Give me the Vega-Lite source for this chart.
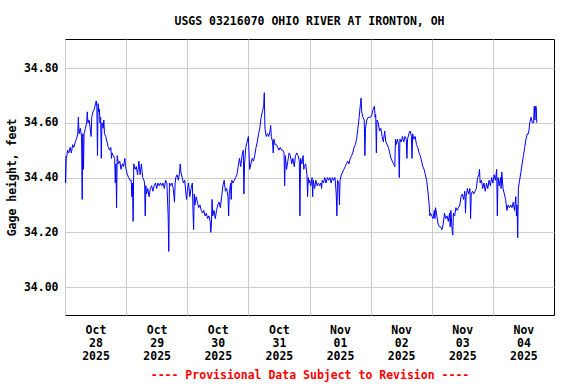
{
  "$schema": "https://vega.github.io/schema/vega-lite/v6.json",
  "width": 489,
  "height": 276,
  "autosize": {"type": "none"},
  "padding": {"left": 65, "top": 39, "right": 22, "bottom": 69},
  "background": "white",
  "title": {"text": "USGS 03216070 OHIO RIVER AT IRONTON, OH", "anchor": "middle", "font": "DejaVu Sans Mono", "fontSize": 11.5, "fontWeight": "bold", "color": "black", "offset": 12},
  "config": {
    "view": {"stroke": "black", "strokeWidth": 1},
    "axis": {"domain": false, "ticks": false, "gridColor": "#cccccc", "gridWidth": 1, "gridOpacity": 1,
      "labelFont": "DejaVu Sans Mono", "labelFontSize": 11.5, "labelFontWeight": "bold", "labelColor": "black",
      "titleFont": "DejaVu Sans Mono", "titleFontSize": 11.5, "titleFontWeight": "bold", "titleColor": "black"}
  },
  "data": {"values": [
    {"t":"2025-10-28T00:00:00Z","v":34.48},{"t":"2025-10-28T00:15:00Z","v":34.38},{"t":"2025-10-28T00:30:00Z","v":34.47},{"t":"2025-10-28T00:45:00Z","v":34.48},
    {"t":"2025-10-28T01:00:00Z","v":34.50},{"t":"2025-10-28T01:30:00Z","v":34.49},{"t":"2025-10-28T02:00:00Z","v":34.51},{"t":"2025-10-28T02:30:00Z","v":34.49},
    {"t":"2025-10-28T03:00:00Z","v":34.52},{"t":"2025-10-28T03:30:00Z","v":34.51},{"t":"2025-10-28T04:00:00Z","v":34.53},{"t":"2025-10-28T04:30:00Z","v":34.54},
    {"t":"2025-10-28T05:00:00Z","v":34.56},{"t":"2025-10-28T05:15:00Z","v":34.62},{"t":"2025-10-28T05:30:00Z","v":34.56},{"t":"2025-10-28T06:00:00Z","v":34.58},
    {"t":"2025-10-28T06:30:00Z","v":34.55},{"t":"2025-10-28T06:45:00Z","v":34.32},{"t":"2025-10-28T07:00:00Z","v":34.56},{"t":"2025-10-28T07:15:00Z","v":34.43},
    {"t":"2025-10-28T07:30:00Z","v":34.56},{"t":"2025-10-28T08:00:00Z","v":34.58},{"t":"2025-10-28T08:30:00Z","v":34.60},{"t":"2025-10-28T08:45:00Z","v":34.64},
    {"t":"2025-10-28T09:00:00Z","v":34.60},{"t":"2025-10-28T09:30:00Z","v":34.61},{"t":"2025-10-28T10:00:00Z","v":34.57},{"t":"2025-10-28T10:15:00Z","v":34.55},
    {"t":"2025-10-28T10:30:00Z","v":34.62},{"t":"2025-10-28T11:00:00Z","v":34.64},{"t":"2025-10-28T11:30:00Z","v":34.65},{"t":"2025-10-28T12:00:00Z","v":34.67},
    {"t":"2025-10-28T12:15:00Z","v":34.68},{"t":"2025-10-28T12:30:00Z","v":34.66},{"t":"2025-10-28T12:45:00Z","v":34.48},{"t":"2025-10-28T13:00:00Z","v":34.67},
    {"t":"2025-10-28T13:15:00Z","v":34.64},{"t":"2025-10-28T13:30:00Z","v":34.65},{"t":"2025-10-28T13:45:00Z","v":34.60},{"t":"2025-10-28T14:00:00Z","v":34.62},
    {"t":"2025-10-28T14:15:00Z","v":34.47},{"t":"2025-10-28T14:30:00Z","v":34.60},{"t":"2025-10-28T15:00:00Z","v":34.58},{"t":"2025-10-28T15:15:00Z","v":34.61},
    {"t":"2025-10-28T15:30:00Z","v":34.56},{"t":"2025-10-28T16:00:00Z","v":34.55},{"t":"2025-10-28T16:30:00Z","v":34.53},{"t":"2025-10-28T17:00:00Z","v":34.51},
    {"t":"2025-10-28T17:30:00Z","v":34.50},{"t":"2025-10-28T18:00:00Z","v":34.51},{"t":"2025-10-28T18:15:00Z","v":34.47},{"t":"2025-10-28T18:30:00Z","v":34.49},
    {"t":"2025-10-28T19:00:00Z","v":34.48},{"t":"2025-10-28T19:30:00Z","v":34.47},{"t":"2025-10-28T19:45:00Z","v":34.38},{"t":"2025-10-28T20:00:00Z","v":34.45},
    {"t":"2025-10-28T20:15:00Z","v":34.29},{"t":"2025-10-28T20:30:00Z","v":34.48},{"t":"2025-10-28T21:00:00Z","v":34.45},{"t":"2025-10-28T21:30:00Z","v":34.46},
    {"t":"2025-10-28T22:00:00Z","v":34.43},{"t":"2025-10-28T22:30:00Z","v":34.45},{"t":"2025-10-28T23:00:00Z","v":34.44},{"t":"2025-10-28T23:30:00Z","v":34.47},
    {"t":"2025-10-28T23:45:00Z","v":34.44},
    {"t":"2025-10-29T00:00:00Z","v":34.43},{"t":"2025-10-29T00:30:00Z","v":34.41},{"t":"2025-10-29T01:00:00Z","v":34.40},{"t":"2025-10-29T01:30:00Z","v":34.39},
    {"t":"2025-10-29T02:00:00Z","v":34.39},{"t":"2025-10-29T02:15:00Z","v":34.33},{"t":"2025-10-29T02:30:00Z","v":34.38},{"t":"2025-10-29T02:45:00Z","v":34.24},
    {"t":"2025-10-29T03:00:00Z","v":34.45},{"t":"2025-10-29T03:30:00Z","v":34.43},{"t":"2025-10-29T04:00:00Z","v":34.44},{"t":"2025-10-29T04:30:00Z","v":34.41},
    {"t":"2025-10-29T05:00:00Z","v":34.46},{"t":"2025-10-29T05:30:00Z","v":34.41},{"t":"2025-10-29T06:00:00Z","v":34.45},{"t":"2025-10-29T06:30:00Z","v":34.40},
    {"t":"2025-10-29T07:00:00Z","v":34.39},{"t":"2025-10-29T07:15:00Z","v":34.38},{"t":"2025-10-29T07:30:00Z","v":34.26},{"t":"2025-10-29T07:45:00Z","v":34.37},
    {"t":"2025-10-29T08:00:00Z","v":34.34},{"t":"2025-10-29T08:30:00Z","v":34.36},{"t":"2025-10-29T09:00:00Z","v":34.33},{"t":"2025-10-29T09:30:00Z","v":34.36},
    {"t":"2025-10-29T10:00:00Z","v":34.37},{"t":"2025-10-29T10:30:00Z","v":34.35},{"t":"2025-10-29T11:00:00Z","v":34.37},{"t":"2025-10-29T11:30:00Z","v":34.38},
    {"t":"2025-10-29T12:00:00Z","v":34.36},{"t":"2025-10-29T12:30:00Z","v":34.38},{"t":"2025-10-29T13:00:00Z","v":34.37},{"t":"2025-10-29T13:30:00Z","v":34.38},
    {"t":"2025-10-29T14:00:00Z","v":34.37},{"t":"2025-10-29T14:30:00Z","v":34.38},{"t":"2025-10-29T15:00:00Z","v":34.36},{"t":"2025-10-29T15:30:00Z","v":34.39},
    {"t":"2025-10-29T16:00:00Z","v":34.38},{"t":"2025-10-29T16:30:00Z","v":34.26},{"t":"2025-10-29T16:45:00Z","v":34.13},{"t":"2025-10-29T17:00:00Z","v":34.38},
    {"t":"2025-10-29T17:30:00Z","v":34.37},{"t":"2025-10-29T18:00:00Z","v":34.38},{"t":"2025-10-29T18:30:00Z","v":34.36},{"t":"2025-10-29T19:00:00Z","v":34.31},
    {"t":"2025-10-29T19:15:00Z","v":34.38},{"t":"2025-10-29T19:30:00Z","v":34.40},{"t":"2025-10-29T20:00:00Z","v":34.41},{"t":"2025-10-29T20:30:00Z","v":34.39},
    {"t":"2025-10-29T21:00:00Z","v":34.42},{"t":"2025-10-29T21:15:00Z","v":34.45},{"t":"2025-10-29T21:30:00Z","v":34.42},{"t":"2025-10-29T22:00:00Z","v":34.40},
    {"t":"2025-10-29T22:30:00Z","v":34.38},{"t":"2025-10-29T23:00:00Z","v":34.39},{"t":"2025-10-29T23:30:00Z","v":34.34},{"t":"2025-10-29T23:45:00Z","v":34.32},
    {"t":"2025-10-30T00:00:00Z","v":34.35},{"t":"2025-10-30T00:30:00Z","v":34.38},{"t":"2025-10-30T01:00:00Z","v":34.33},{"t":"2025-10-30T01:30:00Z","v":34.36},
    {"t":"2025-10-30T02:00:00Z","v":34.38},{"t":"2025-10-30T02:15:00Z","v":34.28},{"t":"2025-10-30T02:30:00Z","v":34.21},{"t":"2025-10-30T02:45:00Z","v":34.34},
    {"t":"2025-10-30T03:00:00Z","v":34.30},{"t":"2025-10-30T03:30:00Z","v":34.33},{"t":"2025-10-30T04:00:00Z","v":34.31},{"t":"2025-10-30T04:30:00Z","v":34.29},
    {"t":"2025-10-30T05:00:00Z","v":34.30},{"t":"2025-10-30T05:30:00Z","v":34.28},{"t":"2025-10-30T06:00:00Z","v":34.27},{"t":"2025-10-30T06:30:00Z","v":34.28},
    {"t":"2025-10-30T07:00:00Z","v":34.26},{"t":"2025-10-30T07:30:00Z","v":34.27},{"t":"2025-10-30T08:00:00Z","v":34.25},{"t":"2025-10-30T08:30:00Z","v":34.26},
    {"t":"2025-10-30T09:00:00Z","v":34.24},{"t":"2025-10-30T09:15:00Z","v":34.20},{"t":"2025-10-30T09:30:00Z","v":34.23},{"t":"2025-10-30T09:45:00Z","v":34.32},
    {"t":"2025-10-30T10:00:00Z","v":34.26},{"t":"2025-10-30T10:30:00Z","v":34.28},{"t":"2025-10-30T11:00:00Z","v":34.25},{"t":"2025-10-30T11:30:00Z","v":34.28},
    {"t":"2025-10-30T12:00:00Z","v":34.30},{"t":"2025-10-30T12:30:00Z","v":34.31},{"t":"2025-10-30T13:00:00Z","v":34.29},{"t":"2025-10-30T13:30:00Z","v":34.33},
    {"t":"2025-10-30T14:00:00Z","v":34.37},{"t":"2025-10-30T14:30:00Z","v":34.39},{"t":"2025-10-30T15:00:00Z","v":34.35},{"t":"2025-10-30T15:30:00Z","v":34.36},
    {"t":"2025-10-30T16:00:00Z","v":34.33},{"t":"2025-10-30T16:15:00Z","v":34.26},{"t":"2025-10-30T16:30:00Z","v":34.34},{"t":"2025-10-30T17:00:00Z","v":34.38},
    {"t":"2025-10-30T17:15:00Z","v":34.32},{"t":"2025-10-30T17:30:00Z","v":34.39},{"t":"2025-10-30T18:00:00Z","v":34.38},{"t":"2025-10-30T18:30:00Z","v":34.39},
    {"t":"2025-10-30T19:00:00Z","v":34.40},{"t":"2025-10-30T19:30:00Z","v":34.41},{"t":"2025-10-30T20:00:00Z","v":34.44},{"t":"2025-10-30T20:30:00Z","v":34.47},
    {"t":"2025-10-30T21:00:00Z","v":34.44},{"t":"2025-10-30T21:30:00Z","v":34.48},{"t":"2025-10-30T22:00:00Z","v":34.50},{"t":"2025-10-30T22:15:00Z","v":34.34},
    {"t":"2025-10-30T22:30:00Z","v":34.45},{"t":"2025-10-30T23:00:00Z","v":34.51},{"t":"2025-10-30T23:30:00Z","v":34.53},
    {"t":"2025-10-31T00:00:00Z","v":34.55},{"t":"2025-10-31T00:30:00Z","v":34.43},{"t":"2025-10-31T01:00:00Z","v":34.45},{"t":"2025-10-31T01:30:00Z","v":34.47},
    {"t":"2025-10-31T02:00:00Z","v":34.46},{"t":"2025-10-31T02:30:00Z","v":34.48},{"t":"2025-10-31T03:00:00Z","v":34.51},{"t":"2025-10-31T03:30:00Z","v":34.53},
    {"t":"2025-10-31T04:00:00Z","v":34.56},{"t":"2025-10-31T04:30:00Z","v":34.58},{"t":"2025-10-31T05:00:00Z","v":34.62},{"t":"2025-10-31T05:30:00Z","v":34.64},
    {"t":"2025-10-31T06:00:00Z","v":34.66},{"t":"2025-10-31T06:15:00Z","v":34.71},{"t":"2025-10-31T06:30:00Z","v":34.58},{"t":"2025-10-31T07:00:00Z","v":34.55},
    {"t":"2025-10-31T07:30:00Z","v":34.56},{"t":"2025-10-31T08:00:00Z","v":34.55},{"t":"2025-10-31T08:30:00Z","v":34.57},{"t":"2025-10-31T08:45:00Z","v":34.59},
    {"t":"2025-10-31T09:00:00Z","v":34.55},{"t":"2025-10-31T09:30:00Z","v":34.53},{"t":"2025-10-31T09:45:00Z","v":34.49},{"t":"2025-10-31T10:00:00Z","v":34.54},
    {"t":"2025-10-31T10:30:00Z","v":34.52},{"t":"2025-10-31T11:00:00Z","v":34.52},{"t":"2025-10-31T11:30:00Z","v":34.51},{"t":"2025-10-31T12:00:00Z","v":34.50},
    {"t":"2025-10-31T12:30:00Z","v":34.51},{"t":"2025-10-31T13:00:00Z","v":34.50},{"t":"2025-10-31T13:30:00Z","v":34.50},{"t":"2025-10-31T14:00:00Z","v":34.49},
    {"t":"2025-10-31T14:15:00Z","v":34.37},{"t":"2025-10-31T14:30:00Z","v":34.48},{"t":"2025-10-31T15:00:00Z","v":34.43},{"t":"2025-10-31T15:30:00Z","v":34.46},
    {"t":"2025-10-31T16:00:00Z","v":34.49},{"t":"2025-10-31T16:30:00Z","v":34.48},{"t":"2025-10-31T17:00:00Z","v":34.45},{"t":"2025-10-31T17:30:00Z","v":34.47},
    {"t":"2025-10-31T18:00:00Z","v":34.44},{"t":"2025-10-31T18:30:00Z","v":34.48},{"t":"2025-10-31T19:00:00Z","v":34.49},{"t":"2025-10-31T19:30:00Z","v":34.48},
    {"t":"2025-10-31T20:00:00Z","v":34.46},{"t":"2025-10-31T20:15:00Z","v":34.26},{"t":"2025-10-31T20:30:00Z","v":34.47},{"t":"2025-10-31T21:00:00Z","v":34.45},
    {"t":"2025-10-31T21:30:00Z","v":34.48},{"t":"2025-10-31T21:45:00Z","v":34.43},{"t":"2025-10-31T22:00:00Z","v":34.44},{"t":"2025-10-31T22:30:00Z","v":34.45},
    {"t":"2025-10-31T23:00:00Z","v":34.41},{"t":"2025-10-31T23:15:00Z","v":34.33},{"t":"2025-10-31T23:30:00Z","v":34.40},{"t":"2025-10-31T23:45:00Z","v":34.38},
    {"t":"2025-11-01T00:00:00Z","v":34.39},{"t":"2025-11-01T00:30:00Z","v":34.37},{"t":"2025-11-01T01:00:00Z","v":34.40},{"t":"2025-11-01T01:15:00Z","v":34.33},
    {"t":"2025-11-01T01:30:00Z","v":34.39},{"t":"2025-11-01T02:00:00Z","v":34.36},{"t":"2025-11-01T02:30:00Z","v":34.39},{"t":"2025-11-01T03:00:00Z","v":34.37},
    {"t":"2025-11-01T03:30:00Z","v":34.38},{"t":"2025-11-01T04:00:00Z","v":34.37},{"t":"2025-11-01T04:30:00Z","v":34.38},{"t":"2025-11-01T04:45:00Z","v":34.36},
    {"t":"2025-11-01T05:00:00Z","v":34.39},{"t":"2025-11-01T05:30:00Z","v":34.38},{"t":"2025-11-01T06:00:00Z","v":34.40},{"t":"2025-11-01T06:30:00Z","v":34.38},
    {"t":"2025-11-01T07:00:00Z","v":34.40},{"t":"2025-11-01T07:30:00Z","v":34.39},{"t":"2025-11-01T08:00:00Z","v":34.40},{"t":"2025-11-01T08:30:00Z","v":34.38},
    {"t":"2025-11-01T09:00:00Z","v":34.40},{"t":"2025-11-01T09:30:00Z","v":34.39},{"t":"2025-11-01T10:00:00Z","v":34.40},{"t":"2025-11-01T10:30:00Z","v":34.34},
    {"t":"2025-11-01T10:45:00Z","v":34.26},{"t":"2025-11-01T11:00:00Z","v":34.39},{"t":"2025-11-01T11:30:00Z","v":34.38},{"t":"2025-11-01T11:45:00Z","v":34.30},
    {"t":"2025-11-01T12:00:00Z","v":34.39},{"t":"2025-11-01T12:30:00Z","v":34.41},{"t":"2025-11-01T13:00:00Z","v":34.42},{"t":"2025-11-01T13:30:00Z","v":34.43},
    {"t":"2025-11-01T14:00:00Z","v":34.44},{"t":"2025-11-01T14:30:00Z","v":34.45},{"t":"2025-11-01T15:00:00Z","v":34.46},{"t":"2025-11-01T15:30:00Z","v":34.45},
    {"t":"2025-11-01T16:00:00Z","v":34.47},{"t":"2025-11-01T16:30:00Z","v":34.48},{"t":"2025-11-01T17:00:00Z","v":34.49},{"t":"2025-11-01T17:30:00Z","v":34.51},
    {"t":"2025-11-01T18:00:00Z","v":34.52},{"t":"2025-11-01T18:30:00Z","v":34.54},{"t":"2025-11-01T19:00:00Z","v":34.58},{"t":"2025-11-01T19:30:00Z","v":34.62},
    {"t":"2025-11-01T20:00:00Z","v":34.67},{"t":"2025-11-01T20:15:00Z","v":34.69},{"t":"2025-11-01T20:30:00Z","v":34.64},{"t":"2025-11-01T21:00:00Z","v":34.62},
    {"t":"2025-11-01T21:30:00Z","v":34.61},{"t":"2025-11-01T21:45:00Z","v":34.48},{"t":"2025-11-01T22:00:00Z","v":34.58},{"t":"2025-11-01T22:30:00Z","v":34.61},
    {"t":"2025-11-01T23:00:00Z","v":34.62},{"t":"2025-11-01T23:30:00Z","v":34.62},
    {"t":"2025-11-02T00:00:00Z","v":34.62},{"t":"2025-11-02T00:30:00Z","v":34.63},{"t":"2025-11-02T01:00:00Z","v":34.65},{"t":"2025-11-02T01:30:00Z","v":34.66},
    {"t":"2025-11-02T01:45:00Z","v":34.62},{"t":"2025-11-02T02:00:00Z","v":34.63},{"t":"2025-11-02T02:15:00Z","v":34.49},{"t":"2025-11-02T02:30:00Z","v":34.61},
    {"t":"2025-11-02T03:00:00Z","v":34.60},{"t":"2025-11-02T03:30:00Z","v":34.57},{"t":"2025-11-02T04:00:00Z","v":34.58},{"t":"2025-11-02T04:30:00Z","v":34.55},
    {"t":"2025-11-02T05:00:00Z","v":34.53},{"t":"2025-11-02T05:30:00Z","v":34.57},{"t":"2025-11-02T06:00:00Z","v":34.53},{"t":"2025-11-02T06:30:00Z","v":34.52},
    {"t":"2025-11-02T07:00:00Z","v":34.51},{"t":"2025-11-02T07:30:00Z","v":34.49},{"t":"2025-11-02T08:00:00Z","v":34.47},{"t":"2025-11-02T08:30:00Z","v":34.46},
    {"t":"2025-11-02T09:00:00Z","v":34.45},{"t":"2025-11-02T09:30:00Z","v":34.44},{"t":"2025-11-02T09:45:00Z","v":34.54},{"t":"2025-11-02T10:00:00Z","v":34.52},
    {"t":"2025-11-02T10:30:00Z","v":34.54},{"t":"2025-11-02T11:00:00Z","v":34.52},{"t":"2025-11-02T11:15:00Z","v":34.40},{"t":"2025-11-02T11:30:00Z","v":34.54},
    {"t":"2025-11-02T12:00:00Z","v":34.53},{"t":"2025-11-02T12:30:00Z","v":34.55},{"t":"2025-11-02T13:00:00Z","v":34.53},{"t":"2025-11-02T13:30:00Z","v":34.55},
    {"t":"2025-11-02T14:00:00Z","v":34.54},{"t":"2025-11-02T14:15:00Z","v":34.47},{"t":"2025-11-02T14:30:00Z","v":34.54},{"t":"2025-11-02T15:00:00Z","v":34.56},
    {"t":"2025-11-02T15:30:00Z","v":34.57},{"t":"2025-11-02T16:00:00Z","v":34.55},{"t":"2025-11-02T16:15:00Z","v":34.47},{"t":"2025-11-02T16:30:00Z","v":34.56},
    {"t":"2025-11-02T17:00:00Z","v":34.54},{"t":"2025-11-02T17:30:00Z","v":34.55},{"t":"2025-11-02T18:00:00Z","v":34.52},{"t":"2025-11-02T18:30:00Z","v":34.51},
    {"t":"2025-11-02T19:00:00Z","v":34.49},{"t":"2025-11-02T19:30:00Z","v":34.48},{"t":"2025-11-02T20:00:00Z","v":34.46},{"t":"2025-11-02T20:30:00Z","v":34.44},
    {"t":"2025-11-02T21:00:00Z","v":34.43},{"t":"2025-11-02T21:30:00Z","v":34.41},{"t":"2025-11-02T22:00:00Z","v":34.39},{"t":"2025-11-02T22:30:00Z","v":34.35},
    {"t":"2025-11-02T23:00:00Z","v":34.30},{"t":"2025-11-02T23:15:00Z","v":34.26},{"t":"2025-11-02T23:30:00Z","v":34.27},
    {"t":"2025-11-03T00:00:00Z","v":34.26},{"t":"2025-11-03T00:30:00Z","v":34.25},{"t":"2025-11-03T01:00:00Z","v":34.28},{"t":"2025-11-03T01:15:00Z","v":34.25},
    {"t":"2025-11-03T01:30:00Z","v":34.29},{"t":"2025-11-03T02:00:00Z","v":34.26},{"t":"2025-11-03T02:30:00Z","v":34.23},{"t":"2025-11-03T03:00:00Z","v":34.22},
    {"t":"2025-11-03T03:30:00Z","v":34.22},{"t":"2025-11-03T04:00:00Z","v":34.21},{"t":"2025-11-03T04:30:00Z","v":34.23},{"t":"2025-11-03T05:00:00Z","v":34.27},
    {"t":"2025-11-03T05:30:00Z","v":34.25},{"t":"2025-11-03T06:00:00Z","v":34.26},{"t":"2025-11-03T06:30:00Z","v":34.24},{"t":"2025-11-03T07:00:00Z","v":34.27},
    {"t":"2025-11-03T07:15:00Z","v":34.22},{"t":"2025-11-03T07:30:00Z","v":34.28},{"t":"2025-11-03T08:00:00Z","v":34.21},{"t":"2025-11-03T08:15:00Z","v":34.19},
    {"t":"2025-11-03T08:30:00Z","v":34.27},{"t":"2025-11-03T09:00:00Z","v":34.26},{"t":"2025-11-03T09:30:00Z","v":34.29},{"t":"2025-11-03T10:00:00Z","v":34.28},
    {"t":"2025-11-03T10:30:00Z","v":34.29},{"t":"2025-11-03T11:00:00Z","v":34.30},{"t":"2025-11-03T11:30:00Z","v":34.33},{"t":"2025-11-03T12:00:00Z","v":34.34},
    {"t":"2025-11-03T12:30:00Z","v":34.32},{"t":"2025-11-03T13:00:00Z","v":34.35},{"t":"2025-11-03T13:15:00Z","v":34.27},{"t":"2025-11-03T13:30:00Z","v":34.33},
    {"t":"2025-11-03T14:00:00Z","v":34.36},{"t":"2025-11-03T14:30:00Z","v":34.34},{"t":"2025-11-03T15:00:00Z","v":34.36},{"t":"2025-11-03T15:15:00Z","v":34.25},
    {"t":"2025-11-03T15:30:00Z","v":34.34},{"t":"2025-11-03T16:00:00Z","v":34.35},{"t":"2025-11-03T16:30:00Z","v":34.34},{"t":"2025-11-03T17:00:00Z","v":34.35},
    {"t":"2025-11-03T17:30:00Z","v":34.36},{"t":"2025-11-03T18:00:00Z","v":34.40},{"t":"2025-11-03T18:30:00Z","v":34.41},{"t":"2025-11-03T18:45:00Z","v":34.43},
    {"t":"2025-11-03T19:00:00Z","v":34.38},{"t":"2025-11-03T19:30:00Z","v":34.39},{"t":"2025-11-03T20:00:00Z","v":34.36},{"t":"2025-11-03T20:30:00Z","v":34.38},
    {"t":"2025-11-03T21:00:00Z","v":34.35},{"t":"2025-11-03T21:30:00Z","v":34.38},{"t":"2025-11-03T22:00:00Z","v":34.36},{"t":"2025-11-03T22:30:00Z","v":34.39},
    {"t":"2025-11-03T23:00:00Z","v":34.37},{"t":"2025-11-03T23:30:00Z","v":34.40},
    {"t":"2025-11-04T00:00:00Z","v":34.38},{"t":"2025-11-04T00:30:00Z","v":34.41},{"t":"2025-11-04T01:00:00Z","v":34.39},{"t":"2025-11-04T01:30:00Z","v":34.43},
    {"t":"2025-11-04T01:45:00Z","v":34.26},{"t":"2025-11-04T02:00:00Z","v":34.40},{"t":"2025-11-04T02:30:00Z","v":34.37},{"t":"2025-11-04T03:00:00Z","v":34.40},
    {"t":"2025-11-04T03:15:00Z","v":34.36},{"t":"2025-11-04T03:30:00Z","v":34.42},{"t":"2025-11-04T04:00:00Z","v":34.36},{"t":"2025-11-04T04:30:00Z","v":34.34},
    {"t":"2025-11-04T05:00:00Z","v":34.32},{"t":"2025-11-04T05:30:00Z","v":34.28},{"t":"2025-11-04T06:00:00Z","v":34.30},{"t":"2025-11-04T06:30:00Z","v":34.29},
    {"t":"2025-11-04T07:00:00Z","v":34.30},{"t":"2025-11-04T07:30:00Z","v":34.29},{"t":"2025-11-04T08:00:00Z","v":34.31},{"t":"2025-11-04T08:30:00Z","v":34.28},
    {"t":"2025-11-04T09:00:00Z","v":34.33},{"t":"2025-11-04T09:15:00Z","v":34.26},{"t":"2025-11-04T09:30:00Z","v":34.30},{"t":"2025-11-04T09:45:00Z","v":34.18},
    {"t":"2025-11-04T10:00:00Z","v":34.36},{"t":"2025-11-04T10:30:00Z","v":34.39},{"t":"2025-11-04T11:00:00Z","v":34.42},{"t":"2025-11-04T11:30:00Z","v":34.45},
    {"t":"2025-11-04T12:00:00Z","v":34.48},{"t":"2025-11-04T12:30:00Z","v":34.51},{"t":"2025-11-04T13:00:00Z","v":34.54},{"t":"2025-11-04T13:30:00Z","v":34.56},
    {"t":"2025-11-04T14:00:00Z","v":34.56},{"t":"2025-11-04T14:30:00Z","v":34.60},{"t":"2025-11-04T15:00:00Z","v":34.62},{"t":"2025-11-04T15:30:00Z","v":34.60},
    {"t":"2025-11-04T16:00:00Z","v":34.60},{"t":"2025-11-04T16:15:00Z","v":34.66},{"t":"2025-11-04T16:30:00Z","v":34.61},{"t":"2025-11-04T16:45:00Z","v":34.66},
    {"t":"2025-11-04T17:00:00Z","v":34.66},{"t":"2025-11-04T17:15:00Z","v":34.60}
  ]},
  "mark": {"type": "line", "color": "#0000ff", "strokeWidth": 1, "clip": true},
  "encoding": {
    "x": {"field": "t", "type": "temporal",
      "scale": {"type": "utc", "domain": [{"year": 2025, "month": 10, "date": 28, "utc": true}, {"year": 2025, "month": 11, "date": 5, "utc": true}]},
      "axis": {
        "values": [
          {"year": 2025, "month": 10, "date": 28, "utc": true}, {"year": 2025, "month": 10, "date": 29, "utc": true},
          {"year": 2025, "month": 10, "date": 30, "utc": true}, {"year": 2025, "month": 10, "date": 31, "utc": true},
          {"year": 2025, "month": 11, "date": 1, "utc": true}, {"year": 2025, "month": 11, "date": 2, "utc": true},
          {"year": 2025, "month": 11, "date": 3, "utc": true}, {"year": 2025, "month": 11, "date": 4, "utc": true}
        ],
        "labelExpr": "[utcFormat(datum.value, '%b'), utcFormat(datum.value, '%d'), utcFormat(datum.value, '%Y')]",
        "labelOffset": 30.5, "labelPadding": 9, "labelLineHeight": 13, "labelOverlap": false, "labelBound": false, "labelFlush": false,
        "title": "---- Provisional Data Subject to Revision ----", "titleColor": "#ff0000", "titlePadding": 8
      }
    },
    "y": {"field": "v", "type": "quantitative",
      "scale": {"domain": [33.898, 34.906], "nice": false, "zero": false},
      "axis": {"values": [34.0, 34.2, 34.4, 34.6, 34.8], "format": ".2f", "labelPadding": 7, "title": "Gage height, feet", "titlePadding": 6}
    }
  }
}
